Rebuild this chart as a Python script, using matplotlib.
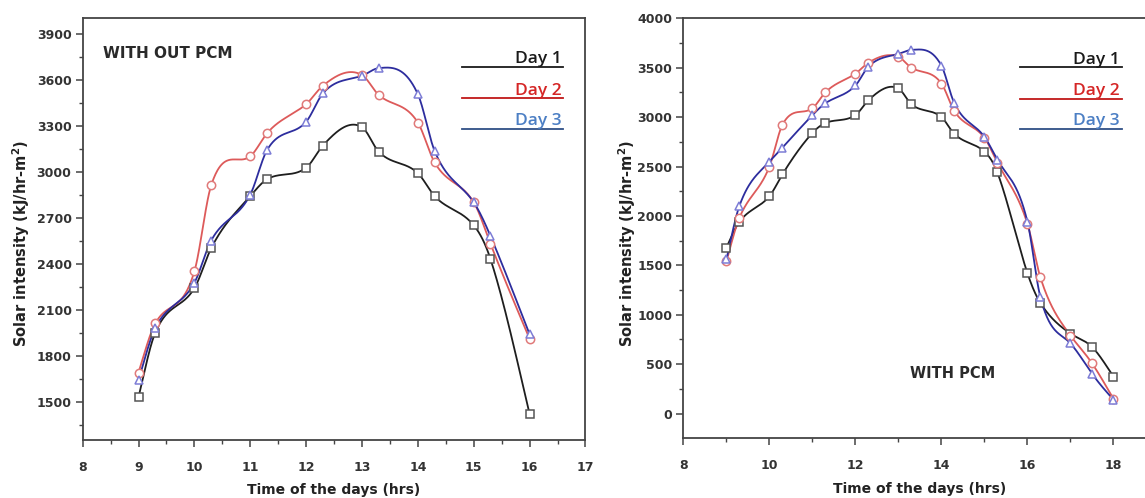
import numpy as np
import matplotlib
matplotlib.use("Agg")
import matplotlib.pyplot as plt
from matplotlib.lines import Line2D

# ---- data ----
t_left = [9, 9.3, 10, 10.3, 11, 11.3, 12, 12.3, 13, 13.3, 14, 14.3, 15, 15.3, 16]
left_day1 = [1530, 1950, 2240, 2500, 2840, 2950, 3025, 3170, 3290, 3130, 2990, 2840, 2650, 2430, 1420]
left_day2 = [1690, 2010, 2350, 2910, 3100, 3250, 3440, 3560, 3630, 3500, 3320, 3060, 2800, 2530, 1910]
left_day3 = [1640, 1980, 2275, 2550, 2850, 3140, 3325, 3510, 3625, 3675, 3505, 3135, 2800, 2580, 1940]

t_right = [9, 9.3, 10, 10.3, 11, 11.3, 12, 12.3, 13, 13.3, 14, 14.3, 15, 15.3, 16, 16.3, 17, 17.5, 18]
right_day1 = [1680, 1940, 2200, 2420, 2840, 2940, 3020, 3170, 3290, 3130, 3000, 2830, 2650, 2440,
              1420, 1120, 810, 675, 375]
right_day2 = [1540, 1980, 2500, 2920, 3090, 3250, 3440, 3550, 3610, 3500, 3340, 3060, 2790, 2540,
              1920, 1380, 790, 510, 150]
right_day3 = [1560, 2100, 2550, 2690, 3020, 3140, 3320, 3510, 3640, 3680, 3520, 3140, 2800, 2570,
              1940, 1180, 710, 405, 140]

day_labels = ["Day 1", "Day 2", "Day 3"]


def smooth(x, y, n=600, mix=0.5):
    # curve through the points, halfway between a natural cubic spline and a
    # cubic Hermite curve (mimics Origin's spline connection)
    x = np.asarray(x, float)
    y = np.asarray(y, float)
    npt = len(x)
    h = np.diff(x)
    xs = np.linspace(x[0], x[-1], n)
    idx = np.clip(np.searchsorted(x, xs) - 1, 0, npt - 2)
    x0, x1 = x[idx], x[idx + 1]
    hh = x1 - x0
    s = (xs - x0) / hh

    # natural spline
    A = np.zeros((npt, npt))
    r = np.zeros(npt)
    A[0, 0] = A[-1, -1] = 1
    for i in range(1, npt - 1):
        A[i, i - 1] = h[i - 1]
        A[i, i] = 2 * (h[i - 1] + h[i])
        A[i, i + 1] = h[i]
        r[i] = 6 * ((y[i + 1] - y[i]) / h[i] - (y[i] - y[i - 1]) / h[i - 1])
    M = np.linalg.solve(A, r)
    a = 1 - s
    nat = a * y[idx] + s * y[idx + 1] + ((a ** 3 - a) * M[idx] + (s ** 3 - s) * M[idx + 1]) * hh ** 2 / 6

    # Hermite with centred slopes
    m = np.empty_like(y)
    m[1:-1] = (y[2:] - y[:-2]) / (x[2:] - x[:-2])
    m[0] = (y[1] - y[0]) / h[0]
    m[-1] = (y[-1] - y[-2]) / h[-1]
    h00 = 2 * s ** 3 - 3 * s ** 2 + 1
    h10 = s ** 3 - 2 * s ** 2 + s
    h01 = -2 * s ** 3 + 3 * s ** 2
    h11 = s ** 3 - s ** 2
    her = h00 * y[idx] + h10 * hh * m[idx] + h01 * y[idx + 1] + h11 * hh * m[idx + 1]
    return xs, mix * nat + (1 - mix) * her


line_cols = ["#1e1e1e", "#dd5a5a", "#2d2d9e"]
edge_cols = ["#555555", "#e07a7a", "#7d7dd6"]
markers = ["s", "o", "^"]
text_cols = ["#1a1a1a", "#d52626", "#4c7fc4"]
leg_line_cols = ["#1a1a1a", "#c01818", "#2f4f86"]

fig = plt.figure(figsize=(11.45, 4.98), dpi=100)
ax1 = fig.add_axes([0.0722, 0.1165, 0.4391, 0.8468])
ax2 = fig.add_axes([0.5969, 0.1199, 0.4131, 0.8434])


def draw(ax, t, series):
    for k, ys in enumerate(series):
        xs, ss = smooth(t, ys)
        ax.plot(xs, ss, color=line_cols[k], lw=1.3, zorder=2 + k)
        ax.plot(t, ys, ls="none", marker=markers[k], ms=6, mfc="white",
                mec=edge_cols[k], mew=1.1, zorder=5 + k)


def style(ax):
    for s in ax.spines.values():
        s.set_color("#444444")
        s.set_linewidth(1.3)
    ax.tick_params(which="major", direction="out", length=5, width=1.1, color="#444444",
                   labelsize=9, labelcolor="#333333")
    ax.tick_params(which="minor", direction="out", length=3, width=1.0, color="#444444")
    ax.tick_params(axis="x", pad=10)
    ax.tick_params(axis="y", pad=3)
    for lab in ax.get_xticklabels() + ax.get_yticklabels():
        lab.set_fontweight("bold")
    ax.set_xlabel("Time of the days (hrs)", fontsize=10, fontweight="bold", color="#222222")
    ax.set_ylabel("Solar intensity (kJ/hr-m$^{\\mathbf{2}}$)", fontsize=10.5, fontweight="bold",
                  color="#222222")
    ax.xaxis.label.set_va("center")
    ax.yaxis.label.set_va("center")


def legend(ax, x0, x1, ys):
    for k, lab in enumerate(day_labels):
        ax.add_line(Line2D([x0, x1], [ys[k], ys[k]], transform=ax.transAxes,
                           color=leg_line_cols[k], lw=1.3, clip_on=False))
        ax.text(x1 - 0.004, ys[k] + 0.009, lab, transform=ax.transAxes, ha="right",
                va="baseline", fontsize=12.5, fontweight="semibold", color=text_cols[k],
                family="Open Sans")


# ---- left panel: without PCM ----
draw(ax1, t_left, [left_day1, left_day2, left_day3])
ax1.set_xlim(8, 17)
ax1.set_ylim(1250, 4000)
ax1.set_xticks(np.arange(8, 18, 1))
ax1.set_xticks(np.arange(8.5, 17, 1), minor=True)
ax1.set_yticks(np.arange(1500, 4000, 300))
ax1.set_yticks(np.arange(1350, 4000, 300), minor=True)
style(ax1)
ax1.xaxis.set_label_coords(0.5, -0.119)
ax1.yaxis.set_label_coords(-0.123, 0.465)
ax1.text(0.04, 0.917, "WITH OUT PCM", transform=ax1.transAxes, fontsize=11, fontweight="bold",
         color="#2a2a2a", va="center", ha="left")
legend(ax1, 0.754, 0.956, [0.884, 0.810, 0.737])

# ---- right panel: with PCM ----
draw(ax2, t_right, [right_day1, right_day2, right_day3])
ax2.set_xlim(8, 19)
ax2.set_ylim(-250, 4000)
ax2.set_xticks(np.arange(8, 19, 2))
ax2.set_xticks(np.arange(9, 19, 2), minor=True)
ax2.set_yticks(np.arange(0, 4001, 500))
ax2.set_yticks(np.arange(250, 4000, 500), minor=True)
style(ax2)
ax2.spines["right"].set_visible(False)
ax2.xaxis.set_label_coords(0.5, -0.12)
ax2.yaxis.set_label_coords(-0.12, 0.463)
ax2.text(0.479, 0.155, "WITH PCM", transform=ax2.transAxes, fontsize=10.5, fontweight="bold",
         color="#2a2a2a", va="center", ha="left")
legend(ax2, 0.712, 0.927, [0.883, 0.808, 0.736])

fig.savefig("out.png", dpi=100)
